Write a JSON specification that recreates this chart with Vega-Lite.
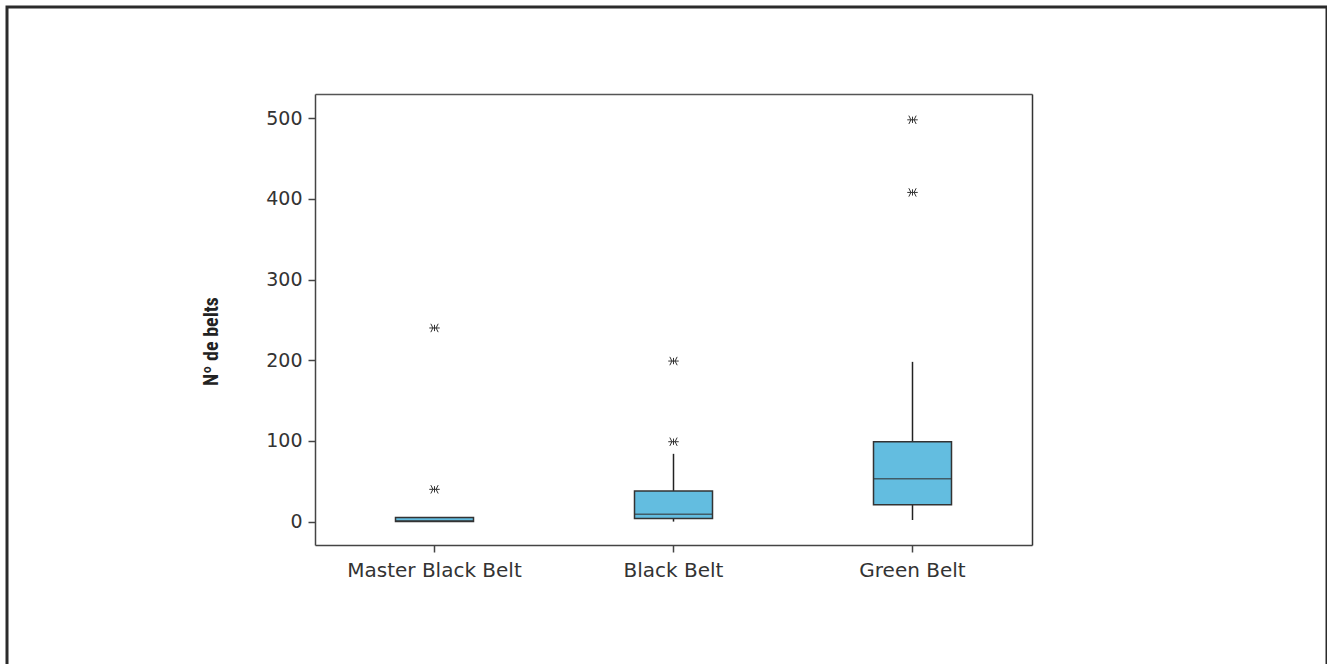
{
  "$schema": "https://vega.github.io/schema/vega-lite/v6.json",
  "width": 1320,
  "height": 660,
  "autosize": {"type": "none"},
  "padding": {"left": 7, "top": 7, "right": 0, "bottom": 0},
  "background": "white",
  "config": {
    "view": {"stroke": "#2b2b2b", "strokeWidth": 3},
    "axis": {
      "labelFont": "DejaVu Sans",
      "labelFontSize": 19,
      "labelColor": "#333333",
      "domainColor": "#444444",
      "domainWidth": 1.5,
      "tickColor": "#444444",
      "tickWidth": 1.5,
      "tickSize": 7,
      "grid": false,
      "titleFont": "'Liberation Sans Narrow', 'Roboto Condensed', 'DejaVu Sans Condensed', 'Liberation Sans'",
      "titleColor": "#222222"
    }
  },
  "datasets": {
    "boxes": [
      {"belt": "Master Black Belt", "lower": 0, "q1": 0, "median": 1, "q3": 5, "upper": 5},
      {"belt": "Black Belt", "lower": 0, "q1": 4, "median": 9, "q3": 38, "upper": 84},
      {"belt": "Green Belt", "lower": 2, "q1": 21, "median": 53, "q3": 99, "upper": 198}
    ],
    "outliers": [
      {"belt": "Master Black Belt", "value": 240},
      {"belt": "Master Black Belt", "value": 40},
      {"belt": "Black Belt", "value": 199},
      {"belt": "Black Belt", "value": 99},
      {"belt": "Green Belt", "value": 408},
      {"belt": "Green Belt", "value": 498}
    ]
  },
  "layer": [
    {
      "data": {"name": "boxes"},
      "mark": {"type": "rule", "color": "#222222", "strokeWidth": 1.5},
      "encoding": {
        "x": {
          "field": "belt", "type": "nominal",
          "sort": ["Master Black Belt", "Black Belt", "Green Belt"],
          "scale": {"type": "band", "range": [308, 1025], "paddingInner": 0, "paddingOuter": 0},
          "axis": {"orient": "bottom", "offset": -122, "title": null, "labelAngle": 0, "labelPadding": 8, "labelFontSize": 20}
        },
        "y": {
          "field": "lower", "type": "quantitative",
          "scale": {"domain": [-29, 530], "nice": false, "zero": false, "range": [538, 87]},
          "axis": {
            "orient": "left", "offset": -308, "values": [0, 100, 200, 300, 400, 500],
            "title": "Nº de belts", "titleFontSize": 20, "titleFontWeight": "bold",
            "titlePadding": 44, "titleY": 334, "labelPadding": 6
          }
        },
        "y2": {"field": "upper"}
      }
    },
    {
      "data": {"name": "boxes"},
      "mark": {"type": "bar", "width": 78, "fill": "#63bde0", "stroke": "#333333", "strokeWidth": 1.5},
      "encoding": {
        "x": {"field": "belt", "type": "nominal", "sort": ["Master Black Belt", "Black Belt", "Green Belt"], "axis": null},
        "y": {"field": "q1", "type": "quantitative", "axis": null},
        "y2": {"field": "q3"}
      }
    },
    {
      "data": {"name": "boxes"},
      "mark": {"type": "tick", "size": 78, "thickness": 1.5, "color": "#333333", "orient": "horizontal"},
      "encoding": {
        "x": {"field": "belt", "type": "nominal", "sort": ["Master Black Belt", "Black Belt", "Green Belt"], "axis": null},
        "y": {"field": "median", "type": "quantitative", "axis": null}
      }
    },
    {
      "data": {"name": "outliers"},
      "mark": {
        "type": "point",
        "shape": "M-1,0L1,0M0,-0.6L0,0.6M-0.7,-0.8L-0.3,0L-0.7,0.8M0.7,-0.8L0.3,0L0.7,0.8",
        "size": 110, "filled": false, "stroke": "#333333", "strokeWidth": 1, "opacity": 1
      },
      "encoding": {
        "x": {
          "field": "belt", "type": "nominal", "sort": ["Master Black Belt", "Black Belt", "Green Belt"],
          "axis": {"orient": "top", "offset": -87, "title": null, "labels": false, "ticks": false, "domainColor": "#555555"}
        },
        "y": {
          "field": "value", "type": "quantitative",
          "axis": {"orient": "right", "offset": -295, "title": null, "labels": false, "ticks": false, "domainColor": "#333333"}
        }
      }
    }
  ],
  "resolve": {"axis": {"x": "independent", "y": "independent"}}
}
